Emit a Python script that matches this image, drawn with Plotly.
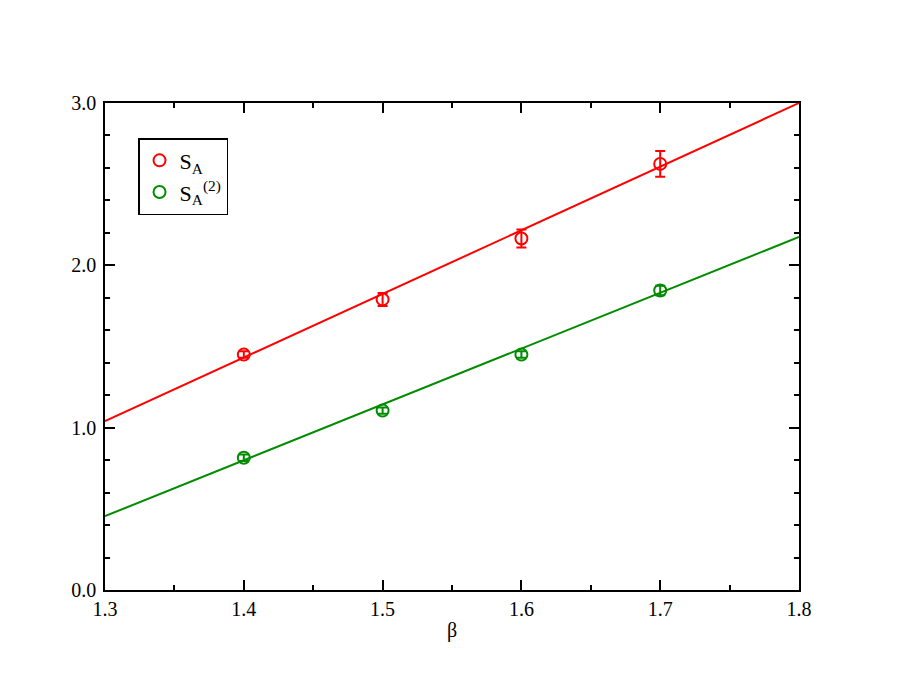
import plotly.graph_objects as go

beta = [1.4, 1.5, 1.6, 1.7]
sa = [1.45, 1.79, 2.165, 2.625]
sa_err = [0.02, 0.04, 0.055, 0.08]
sa2 = [0.815, 1.105, 1.45, 1.845]
sa2_err = [0.02, 0.02, 0.02, 0.03]

fit_x = [1.3, 1.8]
sa_fit = [1.04, 3.0]
sa2_fit = [0.455, 2.175]

RED = "#ff0000"
GREEN = "#008b00"
FONT = "Liberation Serif"

fig = go.Figure()
fig.add_trace(go.Scatter(x=fit_x, y=sa_fit, mode="lines", line=dict(color=RED, width=2),
                         showlegend=False, hoverinfo="skip"))
fig.add_trace(go.Scatter(x=fit_x, y=sa2_fit, mode="lines", line=dict(color=GREEN, width=2),
                         showlegend=False, hoverinfo="skip"))
fig.add_trace(go.Scatter(x=beta, y=sa, mode="markers", name="S<sub>A</sub>",
                         marker=dict(symbol="circle-open", size=12, color=RED, line=dict(width=2, color=RED)),
                         error_y=dict(type="data", array=sa_err, color=RED, thickness=2, width=5)))
fig.add_trace(go.Scatter(x=beta, y=sa2, mode="markers", name="S<sub>A</sub><sup>(2)</sup>",
                         marker=dict(symbol="circle-open", size=12, color=GREEN, line=dict(width=2, color=GREEN)),
                         error_y=dict(type="data", array=sa2_err, color=GREEN, thickness=2, width=5)))

axis_common = dict(showline=True, linecolor="black", linewidth=1.5, mirror="allticks",
                   ticks="inside", ticklen=10, tickwidth=1.5, tickcolor="black",
                   showgrid=False, zeroline=False, tickformat=".1f",
                   tickfont=dict(family=FONT, size=20, color="black"))

fig.update_xaxes(range=[1.3, 1.8], dtick=0.1, tick0=1.3,
                 minor=dict(ticks="inside", ticklen=5, dtick=0.05, tickwidth=1.5, tickcolor="black", showgrid=False),
                 title=dict(text="β", font=dict(family=FONT, size=20, color="black"), standoff=4),
                 **axis_common)
fig.update_yaxes(range=[0, 3.0], dtick=1.0, tick0=0, ticklabelstandoff=3,
                 minor=dict(ticks="inside", ticklen=5, dtick=0.2, tickwidth=1.5, tickcolor="black", showgrid=False),
                 **axis_common)

fig.update_layout(
    width=900, height=695,
    margin=dict(l=97, r=109, t=95, b=113),
    plot_bgcolor="white", paper_bgcolor="white",
    font=dict(family=FONT, size=20, color="black"),
    legend=dict(x=0.0476, y=0.928, xanchor="left", yanchor="top",
                bordercolor="black", borderwidth=1.5, bgcolor="white",
                font=dict(family=FONT, size=22, color="black"),
                tracegroupgap=4),
)

fig.write_html("out.html")
